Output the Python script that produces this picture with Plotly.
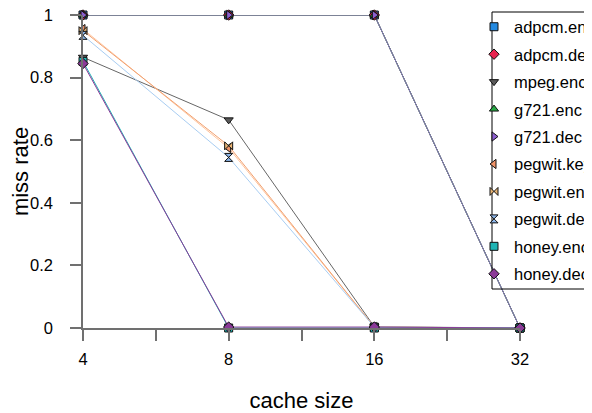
import math
import plotly.graph_objects as go

# ---- data ----
cache_sizes = [4, 8, 16, 32]
series_names = ["adpcm.enc", "adpcm.dec", "mpeg.enc", "g721.enc", "g721.dec",
                "pegwit.key", "pegwit.enc", "pegwit.dec", "honey.enc", "honey.dec"]
adpcm_enc = [1.0, 1.0, 1.0, 0.0]
adpcm_dec = [1.0, 1.0, 1.0, 0.0]
mpeg_enc = [0.865, 0.665, 0.004, 0.0]
g721_enc = [1.0, 1.0, 1.0, 0.0]
g721_dec = [1.0, 1.0, 1.0, 0.0]
pegwit_key = [0.955, 0.575, 0.003, 0.0]
pegwit_enc = [0.95, 0.582, 0.003, 0.0]
pegwit_dec = [0.935, 0.545, 0.003, 0.0]
honey_enc = [0.852, 0.0, 0.0, 0.0]
honey_dec = [0.845, 0.003, 0.003, 0.0]
x_tick_vals = [4, 5.657, 8, 11.314, 16, 22.627, 32]
x_tick_text = ["4", "", "8", "", "16", "", "32"]
y_tick_vals = [0, 0.2, 0.4, 0.6, 0.8, 1.0]
y_tick_text = ["0", "0.2", "0.4", "0.6", "0.8", "1"]

values = [adpcm_enc, adpcm_dec, mpeg_enc, g721_enc, g721_dec,
          pegwit_key, pegwit_enc, pegwit_dec, honey_enc, honey_dec]

# ---- styles ----
marker_colors = ["#2389e0", "#e8234f", "#5a5a5a", "#27a844", "#8d5fd0",
                 "#f09368", "#e8b474", "#8cb6ea", "#1fb4b4", "#8b3a98"]
line_colors = ["#2389e0", "#e8234f", "#666666", "#27a844", "#8878bc",
               "#ffc49c", "#f0a070", "#a8cdf2", "#1fb4b4", "#8b3a98"]
symbols = ["square", "diamond", "triangle-down", "triangle-up", "triangle-right",
           "triangle-left", "bowtie", "hourglass", "square", "diamond"]

FONT = "Liberation Sans, Arial, sans-serif"
FS = 16.5

fig = go.Figure()

for name, ys, lc in zip(series_names, values, line_colors):
    fig.add_trace(go.Scatter(
        x=cache_sizes, y=ys, mode="lines", name=name,
        line=dict(color=lc, width=1), showlegend=False, cliponaxis=False,
        hoverinfo="skip"))

for name, ys, mc, sym in zip(series_names, values, marker_colors, symbols):
    fig.add_trace(go.Scatter(
        x=cache_sizes, y=ys, mode="markers", name=name, legendgroup=name,
        marker=dict(color=mc, symbol=sym, size=8,
                    line=dict(color="#111111", width=1)),
        cliponaxis=False))

W, H = 592, 413
OFF = 8  # page offset of the figure in the browser
# plot area in page pixels
PL, PR, PT, PB = 83, 520, 15, 328
L, T = PL - OFF, PT - OFF
R, B = W - (PR - OFF), H - (PB - OFF)
pw, ph = PR - PL, PB - PT

def px_to_paper_x(px):
    return (px - PL) / pw

def px_to_paper_y(py):
    return (PB - py) / ph

fig.add_shape(type="rect", xref="paper", yref="paper",
              x0=px_to_paper_x(492), x1=px_to_paper_x(640),
              y0=px_to_paper_y(289), y1=px_to_paper_y(12),
              line=dict(color="#000000", width=1), fillcolor="rgba(0,0,0,0)",
              layer="above")

EPS = 1e-6
fig.update_layout(
    width=W, height=H,
    margin=dict(l=L, r=R, t=T, b=B, autoexpand=False),
    paper_bgcolor="white", plot_bgcolor="white",
    font=dict(family=FONT, size=FS, color="#000000"),
    showlegend=True,
    legend=dict(x=px_to_paper_x(474), y=px_to_paper_y(150.5),
                xanchor="left", yanchor="middle",
                bgcolor="rgba(0,0,0,0)", borderwidth=0,
                font=dict(family=FONT, size=FS, color="#000000"),
                tracegroupgap=3, itemwidth=30),
    xaxis=dict(type="log", range=[math.log10(4) - EPS, math.log10(32) + EPS],
               tickvals=x_tick_vals, ticktext=x_tick_text,
               ticks="outside", ticklen=11, tickwidth=1.5, tickcolor="#707070",
               showline=True, linecolor="#707070", linewidth=1.5,
               showgrid=False, zeroline=False, ticklabelstandoff=4,
               ticklabeloverflow="allow",
               tickfont=dict(size=FS, family=FONT, color="#000000"),
               title=dict(text="cache size", font=dict(size=22, family=FONT),
                          standoff=26)),
    yaxis=dict(range=[0 - EPS, 1 + EPS], tickvals=y_tick_vals, ticktext=y_tick_text,
               ticks="outside", ticklen=11, tickwidth=1.5, tickcolor="#707070",
               showline=True, linecolor="#707070", linewidth=1.5,
               showgrid=False, zeroline=False, ticklabelstandoff=14,
               ticklabeloverflow="allow",
               tickfont=dict(size=FS, family=FONT, color="#000000"),
               title=dict(text="miss rate", font=dict(size=22, family=FONT),
                          standoff=10)),
)

fig.write_html("out.html")
